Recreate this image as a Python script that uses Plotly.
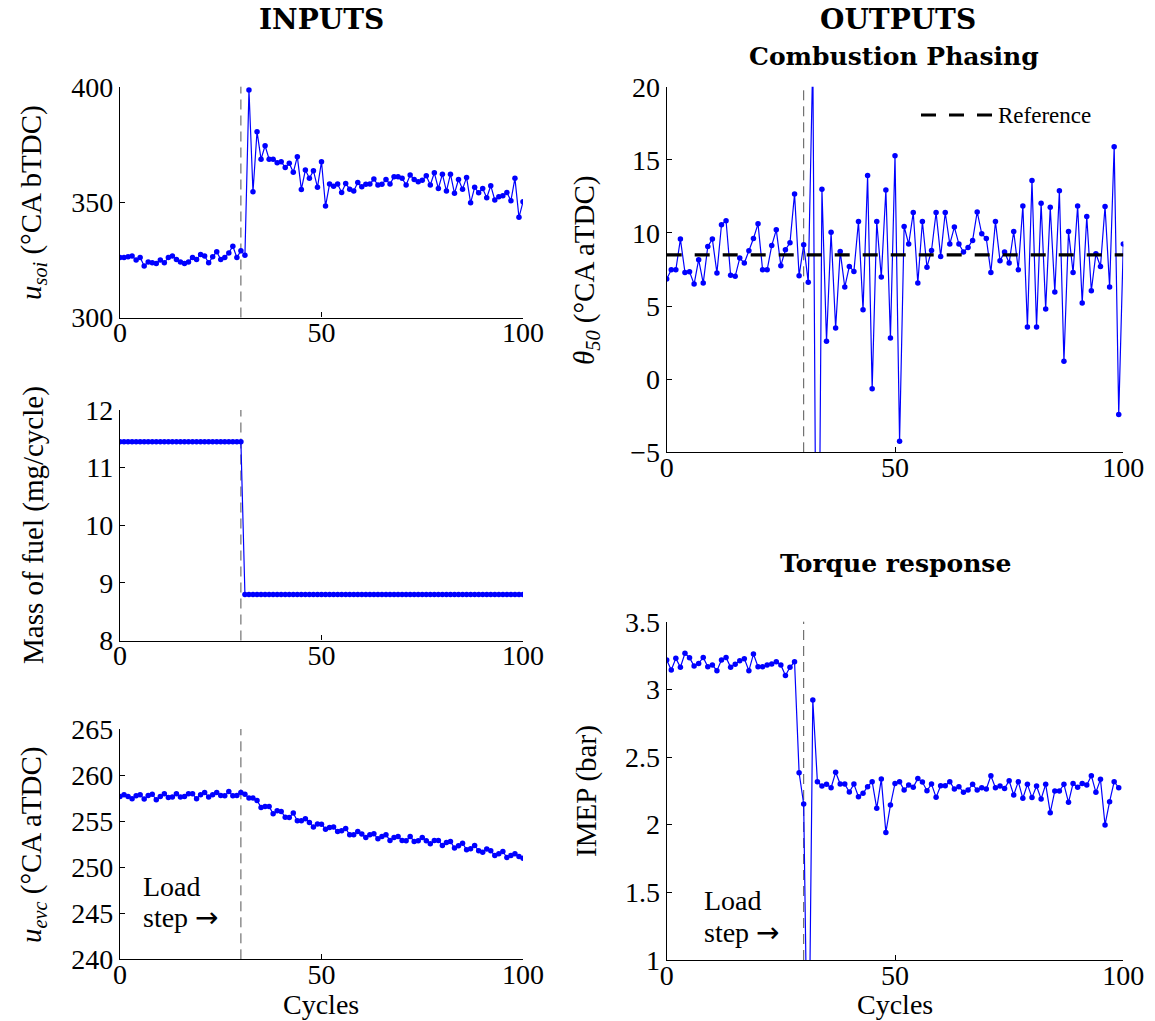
import plotly.graph_objects as go

# ---------------- data ----------------
cycles = list(range(101))
imep_cycles = list(range(100))
load_step_cycle = 30
theta_reference = 8.5

u_soi = [326.0, 326.0, 326.3, 326.6, 324.9, 326.0, 322.3, 324.1, 323.7, 323.4,
         324.9, 323.7, 326.0, 326.6, 325.1, 324.1, 323.4, 324.1, 326.0, 325.1,
         327.3, 326.7, 323.7, 326.3, 328.5, 325.1, 326.0, 328.0, 330.9, 326.0,
         328.9, 327.0, 398.6, 354.5, 380.5, 368.6, 374.4, 368.6, 368.6, 367.1,
         367.5, 365.0, 366.8, 362.9, 369.7, 355.5, 363.9, 360.3, 363.6, 356.4,
         367.5, 348.3, 357.8, 356.9, 357.8, 354.2, 358.1, 355.6, 354.8, 358.5,
         356.6, 357.7, 357.8, 360.0, 357.4, 357.7, 359.8, 357.8, 361.0, 361.0,
         360.3, 357.4, 361.7, 359.8, 358.8, 359.5, 361.4, 357.4, 362.7, 355.9,
         362.1, 354.8, 362.1, 353.8, 359.8, 355.6, 360.7, 349.7, 356.4, 354.0,
         355.9, 351.9, 357.1, 350.9, 352.3, 352.7, 354.2, 350.6, 360.3, 343.4,
         350.1]

fuel_mass = [11.45, 11.45, 11.45, 11.45, 11.45, 11.45, 11.45, 11.45, 11.45, 11.45,
             11.45, 11.45, 11.45, 11.45, 11.45, 11.45, 11.45, 11.45, 11.45, 11.45,
             11.45, 11.45, 11.45, 11.45, 11.45, 11.45, 11.45, 11.45, 11.45, 11.45,
             11.45, 8.8, 8.8, 8.8, 8.8, 8.8, 8.8, 8.8, 8.8, 8.8,
             8.8, 8.8, 8.8, 8.8, 8.8, 8.8, 8.8, 8.8, 8.8, 8.8,
             8.8, 8.8, 8.8, 8.8, 8.8, 8.8, 8.8, 8.8, 8.8, 8.8,
             8.8, 8.8, 8.8, 8.8, 8.8, 8.8, 8.8, 8.8, 8.8, 8.8,
             8.8, 8.8, 8.8, 8.8, 8.8, 8.8, 8.8, 8.8, 8.8, 8.8,
             8.8, 8.8, 8.8, 8.8, 8.8, 8.8, 8.8, 8.8, 8.8, 8.8,
             8.8, 8.8, 8.8, 8.8, 8.8, 8.8, 8.8, 8.8, 8.8, 8.8,
             8.8]

u_evc = [257.68, 257.86, 257.68, 257.43, 257.75, 257.86, 257.39, 257.79, 257.93, 257.32,
         257.68, 257.97, 257.57, 257.61, 257.97, 257.61, 257.68, 257.97, 257.97, 257.43,
         257.86, 258.12, 257.61, 257.86, 258.12, 257.79, 257.75, 258.22, 257.75, 257.79,
         258.12, 257.93, 257.50, 257.50, 257.25, 256.49, 256.59, 256.59, 255.80, 256.12,
         256.05, 255.43, 255.40, 255.87, 255.04, 255.04, 255.25, 254.86, 254.35, 254.70,
         254.67, 254.13, 254.31, 254.35, 253.88, 253.95, 254.20, 253.51, 253.51, 253.88,
         253.59, 253.22, 253.51, 253.62, 253.08, 253.33, 253.51, 252.90, 253.22, 253.33,
         252.90, 252.86, 253.33, 252.79, 252.86, 253.22, 252.86, 252.54, 252.90, 252.90,
         252.36, 252.68, 252.79, 252.07, 252.32, 252.61, 251.88, 251.99, 252.36, 251.78,
         251.63, 251.96, 251.78, 251.27, 251.45, 251.70, 251.05, 251.27, 251.45, 251.16,
         250.98]

theta50 = [6.85, 7.48, 7.48, 9.58, 7.30, 7.35, 6.50, 8.17, 6.57, 9.08,
           9.58, 7.26, 10.56, 10.83, 7.10, 7.03, 8.28, 7.94, 8.78, 9.62,
           10.62, 7.48, 7.48, 9.14, 10.21, 7.76, 8.85, 9.33, 12.67, 7.07,
           9.19, 6.62, 22.0, -29.0, 12.99, 2.59, 10.05, 3.50, 8.73, 6.30,
           7.71, 7.37, 10.78, 4.75, 13.92, -0.66, 10.78, 6.98, 12.94, 2.82,
           15.27, -4.24, 10.44, 9.24, 11.40, 6.57, 10.78, 7.66, 8.80, 11.40,
           8.39, 11.40, 9.24, 10.40, 9.24, 8.69, 9.01, 9.49, 11.44, 9.94,
           9.62, 7.30, 10.78, 8.10, 8.69, 7.94, 10.10, 7.48, 11.85, 3.57,
           13.58, 3.57, 12.03, 4.80, 11.76, 5.96, 12.88, 1.22, 10.10, 7.30,
           11.85, 5.21, 11.12, 6.05, 8.58, 7.71, 11.81, 6.30, 15.90, -2.42,
           9.24]

imep = [3.217, 3.143, 3.229, 3.163, 3.266, 3.234, 3.172, 3.192, 3.236, 3.167,
        3.180, 3.138, 3.217, 3.236, 3.163, 3.185, 3.212, 3.227, 3.138, 3.261,
        3.167, 3.167, 3.180, 3.187, 3.204, 3.180, 3.103, 3.163, 3.204, 2.384,
        2.153, -0.25, 2.921, 2.318, 2.286, 2.298, 2.273, 2.387, 2.300, 2.300,
        2.241, 2.300, 2.207, 2.232, 2.281, 2.318, 2.121, 2.337, 1.943, 2.145,
        2.305, 2.318, 2.256, 2.293, 2.276, 2.342, 2.315, 2.251, 2.300, 2.202,
        2.288, 2.288, 2.318, 2.264, 2.281, 2.239, 2.256, 2.298, 2.256, 2.273,
        2.264, 2.362, 2.273, 2.286, 2.268, 2.325, 2.219, 2.318, 2.195, 2.298,
        2.200, 2.286, 2.190, 2.298, 2.089, 2.249, 2.249, 2.298, 2.165, 2.305,
        2.276, 2.305, 2.293, 2.362, 2.239, 2.335, 1.998, 2.170, 2.318, 2.273]

x_ticks = [0, 50, 100]
soi_ticks = [300, 350, 400]
fuel_ticks = [8, 9, 10, 11, 12]
evc_ticks = [240, 245, 250, 255, 260, 265]
theta_ticks = [-5, 0, 5, 10, 15, 20]
imep_ticks = [1, 1.5, 2, 2.5, 3, 3.5]

# ---------------- layout helpers ----------------
W, H = 1155, 1021
FONT = "Liberation Serif"
BOLD = "DejaVu Serif"
BLUE = "#0000ff"
REF_DASH = "15px,13px"


def xdom(l, r):
    return [l / W, r / W]


def ydom(t, b):
    return [1 - b / H, 1 - t / H]


def px(x):
    return x / W


def py(y):
    return 1 - y / H


fig = go.Figure()

series = [
    ("x", "y", cycles, u_soi),
    ("x2", "y2", cycles, fuel_mass),
    ("x3", "y3", cycles, u_evc),
    ("x4", "y4", cycles, theta50),
    ("x5", "y5", imep_cycles, imep),
]
for xa, ya, xs, ys in series:
    fig.add_trace(go.Scatter(
        x=xs, y=ys, xaxis=xa, yaxis=ya, mode="lines+markers",
        line=dict(color=BLUE, width=1.2),
        marker=dict(color=BLUE, size=5.5),
        showlegend=False, hoverinfo="skip"))

fig.add_trace(go.Scatter(
    x=[cycles[0], cycles[-1]], y=[theta_reference, theta_reference],
    xaxis="x4", yaxis="y4", mode="lines", name="Reference",
    line=dict(color="black", width=3.2, dash=REF_DASH),
    showlegend=False, hoverinfo="skip"))

panels = {
    "": dict(x=(120, 523), y=(86.7, 317.5), rng=[300, 400], ticks=soi_ticks),
    "2": dict(x=(120, 523), y=(410, 640.5), rng=[8, 12], ticks=fuel_ticks),
    "3": dict(x=(120, 523), y=(729, 959.3), rng=[240, 265], ticks=evc_ticks),
    "4": dict(x=(666.7, 1123.3), y=(86.7, 452.3), rng=[-5, 20], ticks=theta_ticks),
    "5": dict(x=(666.7, 1123.3), y=(621.7, 960), rng=[1, 3.5], ticks=imep_ticks),
}

axis_common = dict(
    showline=True, linecolor="black", linewidth=1.3, mirror=False,
    ticks="inside", ticklen=5, tickwidth=1, tickcolor="black",
    showgrid=False, zeroline=False, automargin=False,
    tickfont=dict(family=FONT, size=28, color="black"),
)

layout_axes = {}
for k, p in panels.items():
    layout_axes["xaxis" + k] = dict(
        axis_common, domain=xdom(*p["x"]), range=[0, 100], tickvals=x_ticks,
        anchor="y" + k, ticklabelstandoff=-10)
    layout_axes["yaxis" + k] = dict(
        axis_common, domain=ydom(*p["y"]), range=p["rng"], tickvals=p["ticks"],
        anchor="x" + k)

fig.update_layout(**layout_axes)

# load-step dashed lines
shapes = []
for k in panels:
    shapes.append(dict(
        type="line", xref="x" + k, yref=("y" + k) + " domain",
        x0=load_step_cycle, x1=load_step_cycle, y0=0, y1=1,
        line=dict(color="#555555", width=1, dash="10px,6px"), layer="below"))

# legend key for the reference line
shapes.append(dict(
    type="line", xref="paper", yref="paper",
    x0=px(921), x1=px(992), y0=py(115), y1=py(115),
    line=dict(color="black", width=3.2, dash=REF_DASH)))
fig.update_layout(shapes=shapes)

ann = []


def text(x, y, s, size=29, family=FONT, angle=0, xanchor="center"):
    ann.append(dict(
        x=px(x), y=py(y), xref="paper", yref="paper", text=s, showarrow=False,
        textangle=angle, xanchor=xanchor, yanchor="middle",
        font=dict(family=family, size=size, color="black")))


ARROW = '<span style="font-family:DejaVu Sans">→</span>'

# titles
text(321, 20, "<b>INPUTS</b>", size=28, family=BOLD)
text(898, 20, "<b>OUTPUTS</b>", size=28, family=BOLD)
text(894, 56, "<b>Combustion Phasing</b>", size=25, family=BOLD)
text(895, 563, "<b>Torque response</b>", size=25, family=BOLD)

# y labels
text(33, 203, "<i>u</i><sub><i>soi</i></sub> (°CA bTDC)", angle=-90)
text(33, 525, "Mass of fuel (mg/cycle)", angle=-90)
text(33, 845, "<i>u</i><sub><i>evc</i></sub> (°CA aTDC)", angle=-90)
text(586, 270, "<i>θ</i><sub><i>50</i></sub> (°CA aTDC)", angle=-90)
text(586, 791, "IMEP (bar)", angle=-90)

# x labels
text(321, 1004, "Cycles", size=28)
text(895, 1004, "Cycles", size=28)

# load step notes
text(141, 886, "Load", size=28, xanchor="left")
text(141, 917, "step " + ARROW, size=28, xanchor="left")
text(702, 900, "Load", size=28, xanchor="left")
text(702, 932, "step " + ARROW, size=28, xanchor="left")

# legend label
text(996, 115, "Reference", size=23, xanchor="left")

fig.update_layout(
    template="none",
    annotations=ann,
    width=W, height=H,
    margin=dict(l=0, r=0, t=0, b=0, autoexpand=False),
    paper_bgcolor="white", plot_bgcolor="white",
    showlegend=False,
    font=dict(family=FONT, color="black"),
)

fig.write_html("out.html", config={"displayModeBar": False},
               post_script="document.body.style.margin='0px';")
